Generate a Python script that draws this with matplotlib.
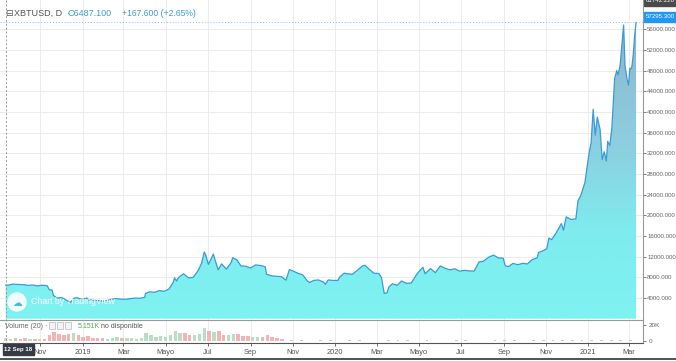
import numpy as np
import pandas as pd
import matplotlib
matplotlib.use('Agg')
import matplotlib.pyplot as plt
import matplotlib.dates as mdates
from matplotlib.colors import LinearSegmentedColormap
from matplotlib.patches import Circle, Rectangle
from matplotlib.ticker import FixedLocator, FuncFormatter

plt.rcParams['font.family'] = ['Liberation Sans', 'DejaVu Sans']

# XBTUSD daily close, sampled from the chart
price_dates = [
    '2018-09-12', '2018-09-16', '2018-09-23', '2018-09-30', '2018-10-07', '2018-10-14',
    '2018-10-21', '2018-10-28', '2018-11-04', '2018-11-11', '2018-11-14', '2018-11-18',
    '2018-11-20', '2018-11-25', '2018-12-02', '2018-12-09', '2018-12-15', '2018-12-20',
    '2018-12-24', '2018-12-31',
    '2019-01-07', '2019-01-10', '2019-01-14', '2019-01-21', '2019-01-28', '2019-02-04',
    '2019-02-08', '2019-02-18', '2019-02-24', '2019-03-04', '2019-03-11', '2019-03-18',
    '2019-03-25', '2019-04-01', '2019-04-02', '2019-04-08', '2019-04-15', '2019-04-22',
    '2019-04-29', '2019-05-06', '2019-05-12', '2019-05-14', '2019-05-17', '2019-05-20',
    '2019-05-27', '2019-06-03', '2019-06-10', '2019-06-17', '2019-06-22', '2019-06-26',
    '2019-06-28', '2019-07-02', '2019-07-09', '2019-07-14', '2019-07-16', '2019-07-21',
    '2019-07-28', '2019-08-04', '2019-08-06', '2019-08-12', '2019-08-18', '2019-08-25',
    '2019-09-01', '2019-09-08', '2019-09-15', '2019-09-22', '2019-09-24', '2019-10-01',
    '2019-10-08', '2019-10-15', '2019-10-22', '2019-10-25', '2019-10-27', '2019-11-01',
    '2019-11-08', '2019-11-15', '2019-11-22', '2019-11-25', '2019-12-01', '2019-12-08',
    '2019-12-15', '2019-12-18', '2019-12-22', '2019-12-29',
    '2020-01-05', '2020-01-08', '2020-01-14', '2020-01-19', '2020-01-26', '2020-02-02',
    '2020-02-09', '2020-02-13', '2020-02-19', '2020-02-26', '2020-03-04', '2020-03-08',
    '2020-03-12', '2020-03-16', '2020-03-19', '2020-03-24', '2020-03-31', '2020-04-06',
    '2020-04-13', '2020-04-20', '2020-04-29', '2020-05-07', '2020-05-10', '2020-05-18',
    '2020-05-25', '2020-06-01', '2020-06-08', '2020-06-15', '2020-06-22', '2020-06-29',
    '2020-07-06', '2020-07-13', '2020-07-20', '2020-07-27', '2020-08-02', '2020-08-10',
    '2020-08-17', '2020-08-24', '2020-08-31', '2020-09-03', '2020-09-08', '2020-09-14',
    '2020-09-21', '2020-09-28', '2020-10-05', '2020-10-12', '2020-10-19', '2020-10-21',
    '2020-10-26', '2020-11-02', '2020-11-05', '2020-11-09', '2020-11-16', '2020-11-23',
    '2020-11-26', '2020-11-30', '2020-12-07', '2020-12-14', '2020-12-17', '2020-12-21',
    '2020-12-27',
    '2021-01-02', '2021-01-05', '2021-01-08', '2021-01-11', '2021-01-14', '2021-01-18',
    '2021-01-21', '2021-01-24', '2021-01-27', '2021-01-29', '2021-02-01', '2021-02-04',
    '2021-02-08', '2021-02-11', '2021-02-13', '2021-02-16', '2021-02-18', '2021-02-21',
    '2021-02-23', '2021-02-26', '2021-02-28', '2021-03-02', '2021-03-04', '2021-03-05',
    '2021-03-07', '2021-03-09', '2021-03-11',
]
price_close = [
    6487, 6500, 6700, 6620, 6600, 6450,
    6520, 6350, 6480, 6380, 5600, 5550,
    4500, 4000, 4100, 3550, 3200, 4000,
    4050, 3750,
    4020, 3600, 3640, 3550, 3450, 3420,
    3650, 3900, 3800, 3750, 3880, 4000,
    3950, 4150, 4900, 5200, 5100, 5450,
    5300, 5750, 7000, 7900, 7300, 8000,
    8700, 7900, 8000, 9300, 10700, 12900,
    12300, 10500, 12500, 10300, 9450, 10600,
    9600, 10900, 11800, 11400, 10200, 10150,
    9800, 10400, 10300, 10050, 8600, 8300,
    8200, 8150, 7450, 8650, 9500, 9250,
    8800, 8500, 7300, 7000, 7400, 7500,
    7100, 6650, 7500, 7400,
    7400, 8100, 8800, 8700, 8600, 9350,
    10150, 10350, 9600, 8800, 8750, 8000,
    4900, 5000, 6200, 6750, 6450, 7300,
    6850, 6900, 8800, 9950, 8700, 9700,
    8900, 10200, 9750, 9450, 9650, 9200,
    9350, 9250, 9200, 11000, 11100, 11900,
    12300, 11750, 11700, 10200, 10100, 10700,
    10450, 10700, 10600, 11450, 11750, 12800,
    13050, 13550, 15600, 15300, 16700, 18400,
    17100, 19700, 19200, 19300, 22800, 23800,
    26300,
    32000, 34000, 40500, 35500, 39000, 36600,
    30800, 32300, 30500, 34300, 33500, 36900,
    46400, 48000, 47200, 49100, 52100, 56800,
    48900, 46300, 45200, 48400, 48400, 48800,
    51200, 54900, 57295,
]

# Volume (thousands), weekly bars
vol_dates = pd.date_range('2018-09-12', periods=58, freq='7D')
vol_k = [
    3.2, 3.0, 3.5, 2.6, 3.8, 2.4, 2.2, 2.5, 2.8, 7.5, 11.5, 9.0, 7.0, 8.5, 10.0, 7.5,
    5.5, 6.0, 4.0, 3.5, 3.2, 3.0, 3.6, 5.0, 4.2, 3.5, 3.2, 3.0, 3.3, 9.5, 7.0, 5.5,
    6.5, 5.0, 8.0, 13.0, 9.5, 10.0, 8.0, 7.0, 9.0, 16.5, 12.0, 11.0, 13.0, 8.0, 7.0,
    9.0, 8.5, 6.5, 6.0, 5.5, 5.0, 4.5, 8.0, 4.5, 3.5, 2.0,
]
vol_late_dates = pd.date_range('2019-10-30', periods=36, freq='14D')
vol_late_k = [
    1.0, 0.8, 0.6, 0.9, 0.7, 0.5, 0.8, 1.2, 0.6, 0.5, 1.4, 0.9, 0.7, 0.6, 0.8, 0.5,
    0.6, 0.9, 0.7, 0.5, 0.6, 0.8, 0.7, 1.0, 0.6, 0.9, 1.1, 0.8, 0.7, 1.0, 0.9, 1.2,
    1.0, 0.8, 1.1, 0.9,
]

month_ticks = ['2018-11-01', '2019-01-01', '2019-03-01', '2019-05-01', '2019-07-01',
               '2019-09-01', '2019-11-01', '2020-01-01', '2020-03-01', '2020-05-01',
               '2020-07-01', '2020-09-01', '2020-11-01', '2021-01-01', '2021-03-01']
month_labels = ['Nov', '2019', 'Mar', 'Mayo', 'Jul', 'Sep', 'Nov', '2020', 'Mar',
                'Mayo', 'Jul', 'Sep', 'Nov', '2021', 'Mar']
price_ticks = list(range(4000, 60000, 4000))

W, H = 676, 361
fig = plt.figure(figsize=(W / 100, H / 100), dpi=100)
fig.patch.set_facecolor('white')


def box(x0, y0, x1, y1):
    # pixel box (top-left origin) -> figure fraction rect
    return [x0 / W, 1 - y1 / H, (x1 - x0) / W, (y1 - y0) / H]


ax = fig.add_axes(box(0, 0, 643, 320))
axv = fig.add_axes(box(0, 320, 643, 343), sharex=ax)

x = mdates.date2num(pd.to_datetime(price_dates))
y = np.array(price_close, dtype=float)
xlim = (mdates.date2num(pd.Timestamp('2018-09-03 18:00')),
        mdates.date2num(pd.Timestamp('2021-03-21')))
ylim = (-250, 61640)

xt = mdates.date2num(pd.to_datetime(month_ticks))

for a in (ax, axv):
    a.set_facecolor('white')
    for s in a.spines.values():
        s.set_visible(False)
    a.xaxis.set_major_locator(FixedLocator(xt))
    a.grid(True, color='#ececec', linewidth=0.7)
    a.set_axisbelow(True)

# gradient area
cmap = LinearSegmentedColormap.from_list(
    'area', [(0, '#7ef2f2'), (0.28, '#7eecee'), (0.55, '#8ccfe0'), (1.0, '#8eb2cb')])
poly = ax.fill_between(x, y, 0, facecolor='none', edgecolor='none')
grad = np.linspace(0, 1, 256).reshape(-1, 1)
im = ax.imshow(grad, extent=[xlim[0], xlim[1], 0, 60000], origin='lower',
               aspect='auto', cmap=cmap, zorder=1)
im.set_clip_path(poly.get_paths()[0], transform=ax.transData)
ax.plot(x, y, color='#3a9bd6', linewidth=0.9, zorder=2)
ax.axhline(price_close[-1], color='#7cc3ec', linewidth=0.7, linestyle=(0, (1, 2)), zorder=3)

ax.set_xlim(*xlim)
ax.set_ylim(*ylim)
ax.yaxis.tick_right()
ax.yaxis.set_major_locator(FixedLocator(price_ticks))
ax.yaxis.set_major_formatter(FuncFormatter(lambda v, p: f'{v:.3f}'))
ax.tick_params(axis='y', labelsize=4.4, colors='#666666', length=2, width=0.6, pad=1)
ax.tick_params(axis='x', length=0, labelbottom=False)

# volume pane
xv = mdates.date2num(vol_dates)
pv = np.interp(xv, x, y)
pv_prev = np.interp(xv - 4, x, y)
vcol = ['#b8dfc2' if a >= b else '#f4b4b4' for a, b in zip(pv, pv_prev)]
axv.bar(xv, vol_k, width=5, color=vcol, zorder=2)
axv.bar(mdates.date2num(vol_late_dates), vol_late_k, width=4, color='#c9c9c9', zorder=2)
axv.set_ylim(-2.5, 26.25)
axv.yaxis.tick_right()
axv.yaxis.set_major_locator(FixedLocator([0, 20]))
axv.yaxis.set_major_formatter(FuncFormatter(lambda v, p: '0' if v == 0 else '20K'))
axv.tick_params(axis='y', labelsize=4.6, colors='#666666', length=2, width=0.6, pad=2)
axv.set_xticks(xt)
axv.set_xticklabels(month_labels)
axv.tick_params(axis='x', labelsize=5.3, colors='#555555', length=2, width=0.6, pad=2)
axv.grid(axis='y', visible=False)

# overlay in pixel coords for chart decorations
ov = fig.add_axes([0, 0, 1, 1], zorder=5)
ov.set_xlim(0, W)
ov.set_ylim(H, 0)
ov.axis('off')
ov.patch.set_alpha(0)

ov.plot([643, 643], [0, 343], color='#999999', linewidth=0.8)
ov.plot([0, 643], [320, 320], color='#9a9a9a', linewidth=0.8)
ov.plot([0, 643], [343, 343], color='#555555', linewidth=0.8)
ov.plot([0, W], [359, 359], color='#333333', linewidth=1.2)
ov.plot([6, 6], [0, 343], color='#9a9a9a', linewidth=0.7, linestyle=(0, (2, 2)))

# header
ov.text(5, 13, '⊟', fontsize=6.5, color='#555555', va='center', family='DejaVu Sans')
ov.text(14, 13, 'XBTUSD, D  ·', fontsize=6.5, color='#555555', va='center')
ov.text(67, 13, 'C6487.100', fontsize=6.5, color='#3a9bd6', va='center')
ov.text(122, 13, '+167.600 (+2.65%)', fontsize=6.2, color='#3a9bd6', va='center')

# right labels
ov.add_patch(Rectangle((644, -4), 32, 10, color='#4a4a4a', clip_on=False))
ov.text(660, 1, '61742.220', fontsize=4.4, color='white', ha='center', va='center')
ov.add_patch(Rectangle((644, 12), 32, 10, color='#2196f3'))
ov.text(660, 17, '57295.300', fontsize=4.4, color='white', ha='center', va='center')

# watermark
ov.add_patch(Circle((17, 302), 9, color='white', alpha=0.9))
ov.text(17, 302.5, '☁', fontsize=7, color='#4fb9d4', ha='center', va='center',
        family='DejaVu Sans')
ov.text(31, 302, 'Chart by TradingView', fontsize=6.3, color='white', va='center')

# volume legend
ov.text(5, 326, 'Volume (20) ·', fontsize=5, color='#666666', va='center')
for bx in (49, 57, 65):
    ov.add_patch(Rectangle((bx, 322), 6, 7, facecolor='#f4f4f4', edgecolor='#bbbbbb',
                           linewidth=0.5))
ov.text(78, 326, '5.151K', fontsize=5, color='#4caf50', va='center')
ov.text(101, 326, 'no disponible', fontsize=5, color='#555555', va='center')

# crosshair date
ov.add_patch(Rectangle((3, 344), 31, 11, color='#363a45'))
ov.text(18.5, 349.5, '12 Sep 18', fontsize=4.4, color='white', ha='center', va='center',
        fontweight='bold')

fig.savefig('out.png', dpi=100, facecolor='white')
